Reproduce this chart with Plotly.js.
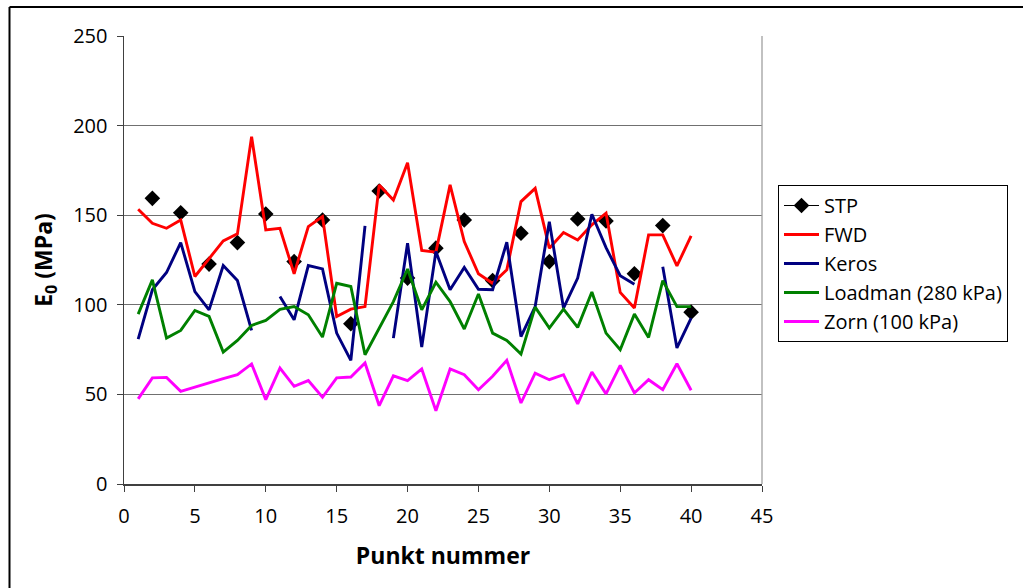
<!DOCTYPE html>
<html>
<head>
<meta charset="utf-8">
<script src="https://cdn.plot.ly/plotly-3.0.1.min.js"></script>
<style>
html,body{margin:0;padding:0;background:#fff;}
#chart{width:1023px;height:588px;}
</style>
</head>
<body>
<div id="chart"></div>
<script>
const punkt = [1,2,3,4,5,6,7,8,9,10,11,12,13,14,15,16,17,18,19,20,21,22,23,24,25,26,27,28,29,30,31,32,33,34,35,36,37,38,39,40];
const stp = [null,159.4,null,151.4,null,122.7,null,134.7,null,150.7,null,124.1,null,147.3,null,89.4,null,163.5,null,114.9,null,131.6,null,147.3,null,113.5,null,139.9,null,124.1,null,147.9,null,146.8,null,117.3,null,144.2,null,95.9];
const fwd = [153.3,145.5,142.7,147.3,115.8,126,135.7,139.6,193.8,141.8,142.7,117.3,143.6,149.2,93.5,97.6,99,166.9,158.5,179.3,130.3,129.4,166.9,135.3,117.3,112,119.5,157.6,165,131.6,140.3,136.2,144.6,151.1,106.9,98.2,139,139,121.7,138.4];
const keros = [80.9,108.4,118,134.7,107.4,97.2,121.9,113.5,85.7,null,104.6,91.6,121.9,120,84.2,69,144,null,81.4,134.4,76.4,129.7,108.4,120.8,108.7,108.4,134.9,82.3,99,146.4,98.2,114.9,150.5,131.9,116.2,111.5,null,121.3,75.9,92.6];
const loadman = [94.8,113.9,81.4,85.7,96.8,93.5,73.6,80.1,88.5,91.3,97.5,99,94.4,82,112,110.2,72.1,87,101.8,120,97.2,112.6,101.8,86.5,106,84.2,80.1,72.5,98.7,87,97.6,87.4,107.1,84.2,74.9,94.8,81.8,113.5,99,99];
const zorn = [47.5,59.2,59.5,51.7,54,56.5,58.8,61,67,47.1,64.7,54.5,57.7,48.4,59.2,59.7,67.5,43.7,60.4,57.7,64.2,40.9,64.2,61,52.6,60.1,69,45.2,61.9,58.2,61,44.7,62.5,50.3,66.2,50.8,58.2,52.6,67.1,52.3];

const font = 'Open Sans, DejaVu Sans, sans-serif';
const lw = 2.9;
const traces = [
  {x: punkt, y: stp, name: 'STP', mode: 'lines+markers', connectgaps: false,
   line: {color: '#000000', width: 1}, marker: {symbol: 'diamond', size: 12, color: '#000000'}},
  {x: punkt, y: fwd, name: 'FWD', mode: 'lines', line: {color: '#FF0000', width: lw}},
  {x: punkt, y: keros, name: 'Keros', mode: 'lines', connectgaps: false, line: {color: '#000080', width: lw}},
  {x: punkt, y: loadman, name: 'Loadman (280 kPa)', mode: 'lines', line: {color: '#008000', width: lw}},
  {x: punkt, y: zorn, name: 'Zorn (100 kPa)', mode: 'lines', line: {color: '#FF00FF', width: lw}}
];

const L = 124, R = 762, T = 36, B = 484;
const W = R - L, H = B - T;
const px = v => (v - L) / W;
const py = v => (B - v) / H;

const layout = {
  width: 1023, height: 588,
  margin: {l: L, r: 1023 - R, t: T, b: 588 - B},
  paper_bgcolor: '#ffffff', plot_bgcolor: '#ffffff',
  font: {family: font, size: 20, color: '#000000'},
  showlegend: true,
  legend: {
    x: px(778), y: py(185), xanchor: 'left', yanchor: 'top',
    bordercolor: '#000000', borderwidth: 1, bgcolor: '#ffffff',
    font: {family: font, size: 20, color: '#000000'},
    itemwidth: 35, tracegroupgap: 0
  },
  xaxis: {
    range: [0, 45], dtick: 5, tick0: 0, showgrid: false, zeroline: false,
    showline: true, linecolor: '#404040', linewidth: 1.5,
    ticks: 'outside', ticklen: 6, tickcolor: '#404040', ticklabelstandoff: 7,
    tickfont: {family: font, size: 20, color: '#000000'},
    title: {text: 'Punkt nummer', font: {family: font, size: 23, color: '#000000', weight: 'bold'}, standoff: 20},
    automargin: false
  },
  yaxis: {
    range: [0, 250], dtick: 50, tick0: 0, showgrid: true, gridcolor: '#707070', gridwidth: 1.3,
    zeroline: false, showline: true, linecolor: '#404040', linewidth: 1.5,
    ticks: 'outside', ticklen: 6, tickcolor: '#404040', ticklabelstandoff: 5,
    tickfont: {family: font, size: 20, color: '#000000'},
    title: {text: '<b>E<sub>0</sub> (MPa)</b>', font: {family: font, size: 23, color: '#000000'}, standoff: 14},
    automargin: false
  },
  shapes: [
    {type: 'line', xref: 'paper', yref: 'paper', x0: 1, x1: 1, y0: 0, y1: 1, line: {color: '#a0a0a0', width: 1.3}},
    {type: 'line', xref: 'paper', yref: 'paper', x0: px(9.5), x1: px(1023), y0: py(7), y1: py(7), line: {color: '#000000', width: 2}},
    {type: 'line', xref: 'paper', yref: 'paper', x0: px(9.5), x1: px(9.5), y0: py(7), y1: py(590), line: {color: '#000000', width: 2}}
  ]
};

Plotly.newPlot('chart', traces, layout, {staticPlot: true, displayModeBar: false});
</script>
</body>
</html>
